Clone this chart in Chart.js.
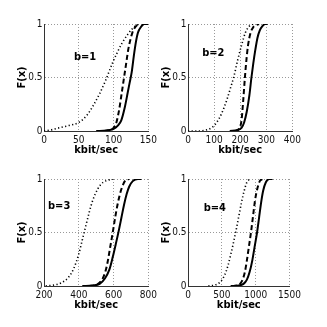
<!DOCTYPE html>
<html>
<head>
<meta charset="utf-8">
<script src="https://cdn.jsdelivr.net/npm/chart.js@4.4.1/dist/chart.umd.min.js"></script>
<style>
  html, body { margin: 0; padding: 0; background: #fff; }
  #wrap { position: relative; width: 327px; height: 327px; overflow: hidden; }
  canvas { position: absolute; }
</style>
</head>
<body>
<div id="wrap">
  <canvas id="c1" width="160" height="160" style="left:0px;top:0px"></canvas>
  <canvas id="c2" width="160" height="160" style="left:144px;top:0px"></canvas>
  <canvas id="c3" width="160" height="160" style="left:0px;top:155px"></canvas>
  <canvas id="c4" width="160" height="160" style="left:144px;top:155px"></canvas>
</div>
<script>
// b=1
const b1DotX = [0, 10, 22, 35, 50, 62, 70, 80, 89, 98, 105, 112, 120, 126, 131, 136];
const b1DotF = [0, 0.01, 0.03, 0.05, 0.08, 0.15, 0.23, 0.35, 0.48, 0.63, 0.73, 0.82, 0.9, 0.95, 0.98, 1];
const b1DashX = [86, 95, 100, 104, 108, 112, 115, 118, 121, 124, 127, 130, 134, 138];
const b1DashF = [0, 0.01, 0.03, 0.08, 0.2, 0.37, 0.5, 0.63, 0.76, 0.85, 0.92, 0.96, 0.99, 1];
const b1SolX = [75, 90, 100, 106, 111, 116, 120, 123, 126, 129, 132, 135, 139, 144, 150];
const b1SolF = [0, 0.005, 0.02, 0.05, 0.1, 0.22, 0.35, 0.45, 0.55, 0.7, 0.83, 0.92, 0.97, 1, 1];

// b=2
const b2DotX = [0, 40, 70, 90, 110, 130, 150, 165, 175, 190, 205, 220, 235, 250];
const b2DotF = [0, 0, 0.01, 0.03, 0.08, 0.17, 0.3, 0.42, 0.5, 0.66, 0.8, 0.92, 0.98, 1];
const b2DashX = [180, 195, 205, 212, 218, 224, 230, 240, 250, 262, 272];
const b2DashF = [0, 0.02, 0.1, 0.3, 0.5, 0.67, 0.8, 0.92, 0.97, 0.99, 1];
const b2SolX = [160, 190, 205, 215, 225, 235, 243, 250, 258, 266, 275, 285, 295, 305];
const b2SolF = [0, 0.01, 0.03, 0.08, 0.18, 0.33, 0.5, 0.63, 0.76, 0.87, 0.94, 0.98, 1, 1];

// b=3
const b3DotX = [210, 260, 300, 340, 370, 400, 420, 440, 460, 480, 510, 540, 570, 600];
const b3DotF = [0, 0.01, 0.03, 0.08, 0.16, 0.3, 0.43, 0.56, 0.69, 0.8, 0.91, 0.97, 0.99, 1];
const b3DashX = [460, 500, 530, 550, 565, 580, 595, 610, 625, 640, 655, 670, 690];
const b3DashF = [0, 0.01, 0.05, 0.12, 0.22, 0.36, 0.5, 0.65, 0.78, 0.88, 0.95, 0.99, 1];
const b3SolX = [420, 480, 520, 550, 575, 595, 615, 630, 645, 660, 675, 690, 710, 740, 760];
const b3SolF = [0, 0.005, 0.02, 0.07, 0.15, 0.27, 0.41, 0.52, 0.64, 0.76, 0.86, 0.93, 0.98, 1, 1];

// b=4
const b4DotX = [300, 400, 480, 540, 590, 630, 670, 710, 750, 790, 830, 870, 910];
const b4DotF = [0, 0.01, 0.04, 0.1, 0.19, 0.29, 0.4, 0.52, 0.65, 0.78, 0.89, 0.97, 1];
const b4DashX = [650, 750, 800, 840, 870, 900, 930, 960, 990, 1020, 1060, 1100];
const b4DashF = [0, 0.01, 0.05, 0.13, 0.24, 0.37, 0.5, 0.65, 0.8, 0.9, 0.98, 1];
const b4SolX = [630, 750, 820, 870, 910, 950, 985, 1020, 1050, 1080, 1110, 1150, 1200, 1250];
const b4SolF = [0, 0.005, 0.02, 0.06, 0.13, 0.24, 0.37, 0.5, 0.64, 0.78, 0.89, 0.97, 1, 1];

// axis ranges and ticks
const xMins = [0, 0, 200, 0];
const xMaxs = [150, 400, 800, 1500];
const xSteps = [50, 100, 200, 500];
const yTicks = [0, 0.5, 1];
const panelLabels = ['b=1', 'b=2', 'b=3', 'b=4'];
const labelX = [59, 97, 287, 396];
const labelY = [0.69, 0.73, 0.75, 0.73];
const xTitle = 'kbit/sec';
const yTitle = 'F(x)';

const FONT = '"Liberation Sans Narrow", "DejaVu Sans Condensed", "Liberation Sans", sans-serif';

// text inside each panel, placed in data coordinates
const panelText = {
    id: 'panelText',
    afterDatasetsDraw(chart, args, opts) {
        const ctx = chart.ctx;
        ctx.save();
        ctx.font = 'bold 11px ' + FONT;
        ctx.fillStyle = '#000';
        ctx.textAlign = 'center';
        ctx.textBaseline = 'middle';
        ctx.fillText(opts.text, chart.scales.x.getPixelForValue(opts.x), chart.scales.y.getPixelForValue(opts.y));
        ctx.restore();
    }
};

function pts(xs, ys) {
    return xs.map((x, i) => ({ x: x, y: ys[i] }));
}

function makeChart(id, i, dot, dash, sol) {
    const line = {
        pointRadius: 0,
        borderColor: '#000',
        fill: false,
        cubicInterpolationMode: 'monotone'
    };
    new Chart(document.getElementById(id), {
        type: 'line',
        data: {
            datasets: [
                Object.assign({ data: dot, borderWidth: 1.6, borderDash: [1.2, 2.4] }, line),
                Object.assign({ data: dash, borderWidth: 2, borderDash: [5, 3] }, line),
                Object.assign({ data: sol, borderWidth: 2 }, line)
            ]
        },
        plugins: [panelText],
        options: {
            responsive: false,
            animation: false,
            devicePixelRatio: 1,
            layout: { padding: { left: 0, top: 24, right: 10, bottom: 0 } },
            plugins: {
                legend: { display: false },
                tooltip: { enabled: false },
                panelText: { text: panelLabels[i], x: labelX[i], y: labelY[i] }
            },
            scales: {
                x: {
                    type: 'linear',
                    min: xMins[i],
                    max: xMaxs[i],
                    afterFit: (s) => { s.height = 29; },
                    ticks: {
                        stepSize: xSteps[i],
                        padding: 3,
                        maxRotation: 0,
                        color: '#111',
                        font: { family: FONT, size: 10 },
                        callback: (v) => String(v)
                    },
                    grid: { color: '#999', lineWidth: 1, drawTicks: false },
                    border: { display: true, color: '#333', width: 1, dash: [1, 2] },
                    title: {
                        display: true,
                        text: xTitle,
                        color: '#000',
                        font: { family: FONT, size: 11, weight: 'bold' },
                        padding: { top: 0, bottom: 3 }
                    }
                },
                y: {
                    type: 'linear',
                    min: 0,
                    max: 1,
                    afterFit: (s) => { s.width = 44; },
                    afterBuildTicks: (s) => { s.ticks = yTicks.map(v => ({ value: v })); },
                    ticks: {
                        padding: 1.5,
                        color: '#111',
                        font: { family: FONT, size: 10 },
                        callback: (v) => String(v)
                    },
                    grid: { color: '#999', lineWidth: 1, drawTicks: false },
                    border: { display: true, color: '#333', width: 1, dash: [1, 2] },
                    title: {
                        display: true,
                        text: yTitle,
                        color: '#000',
                        font: { family: FONT, size: 11, weight: 'bold' },
                        padding: { top: 16, bottom: 0 }
                    }
                }
            }
        }
    });
}

makeChart('c1', 0, pts(b1DotX, b1DotF), pts(b1DashX, b1DashF), pts(b1SolX, b1SolF));
makeChart('c2', 1, pts(b2DotX, b2DotF), pts(b2DashX, b2DashF), pts(b2SolX, b2SolF));
makeChart('c3', 2, pts(b3DotX, b3DotF), pts(b3DashX, b3DashF), pts(b3SolX, b3SolF));
makeChart('c4', 3, pts(b4DotX, b4DotF), pts(b4DashX, b4DashF), pts(b4SolX, b4SolF));
</script>
</body>
</html>
